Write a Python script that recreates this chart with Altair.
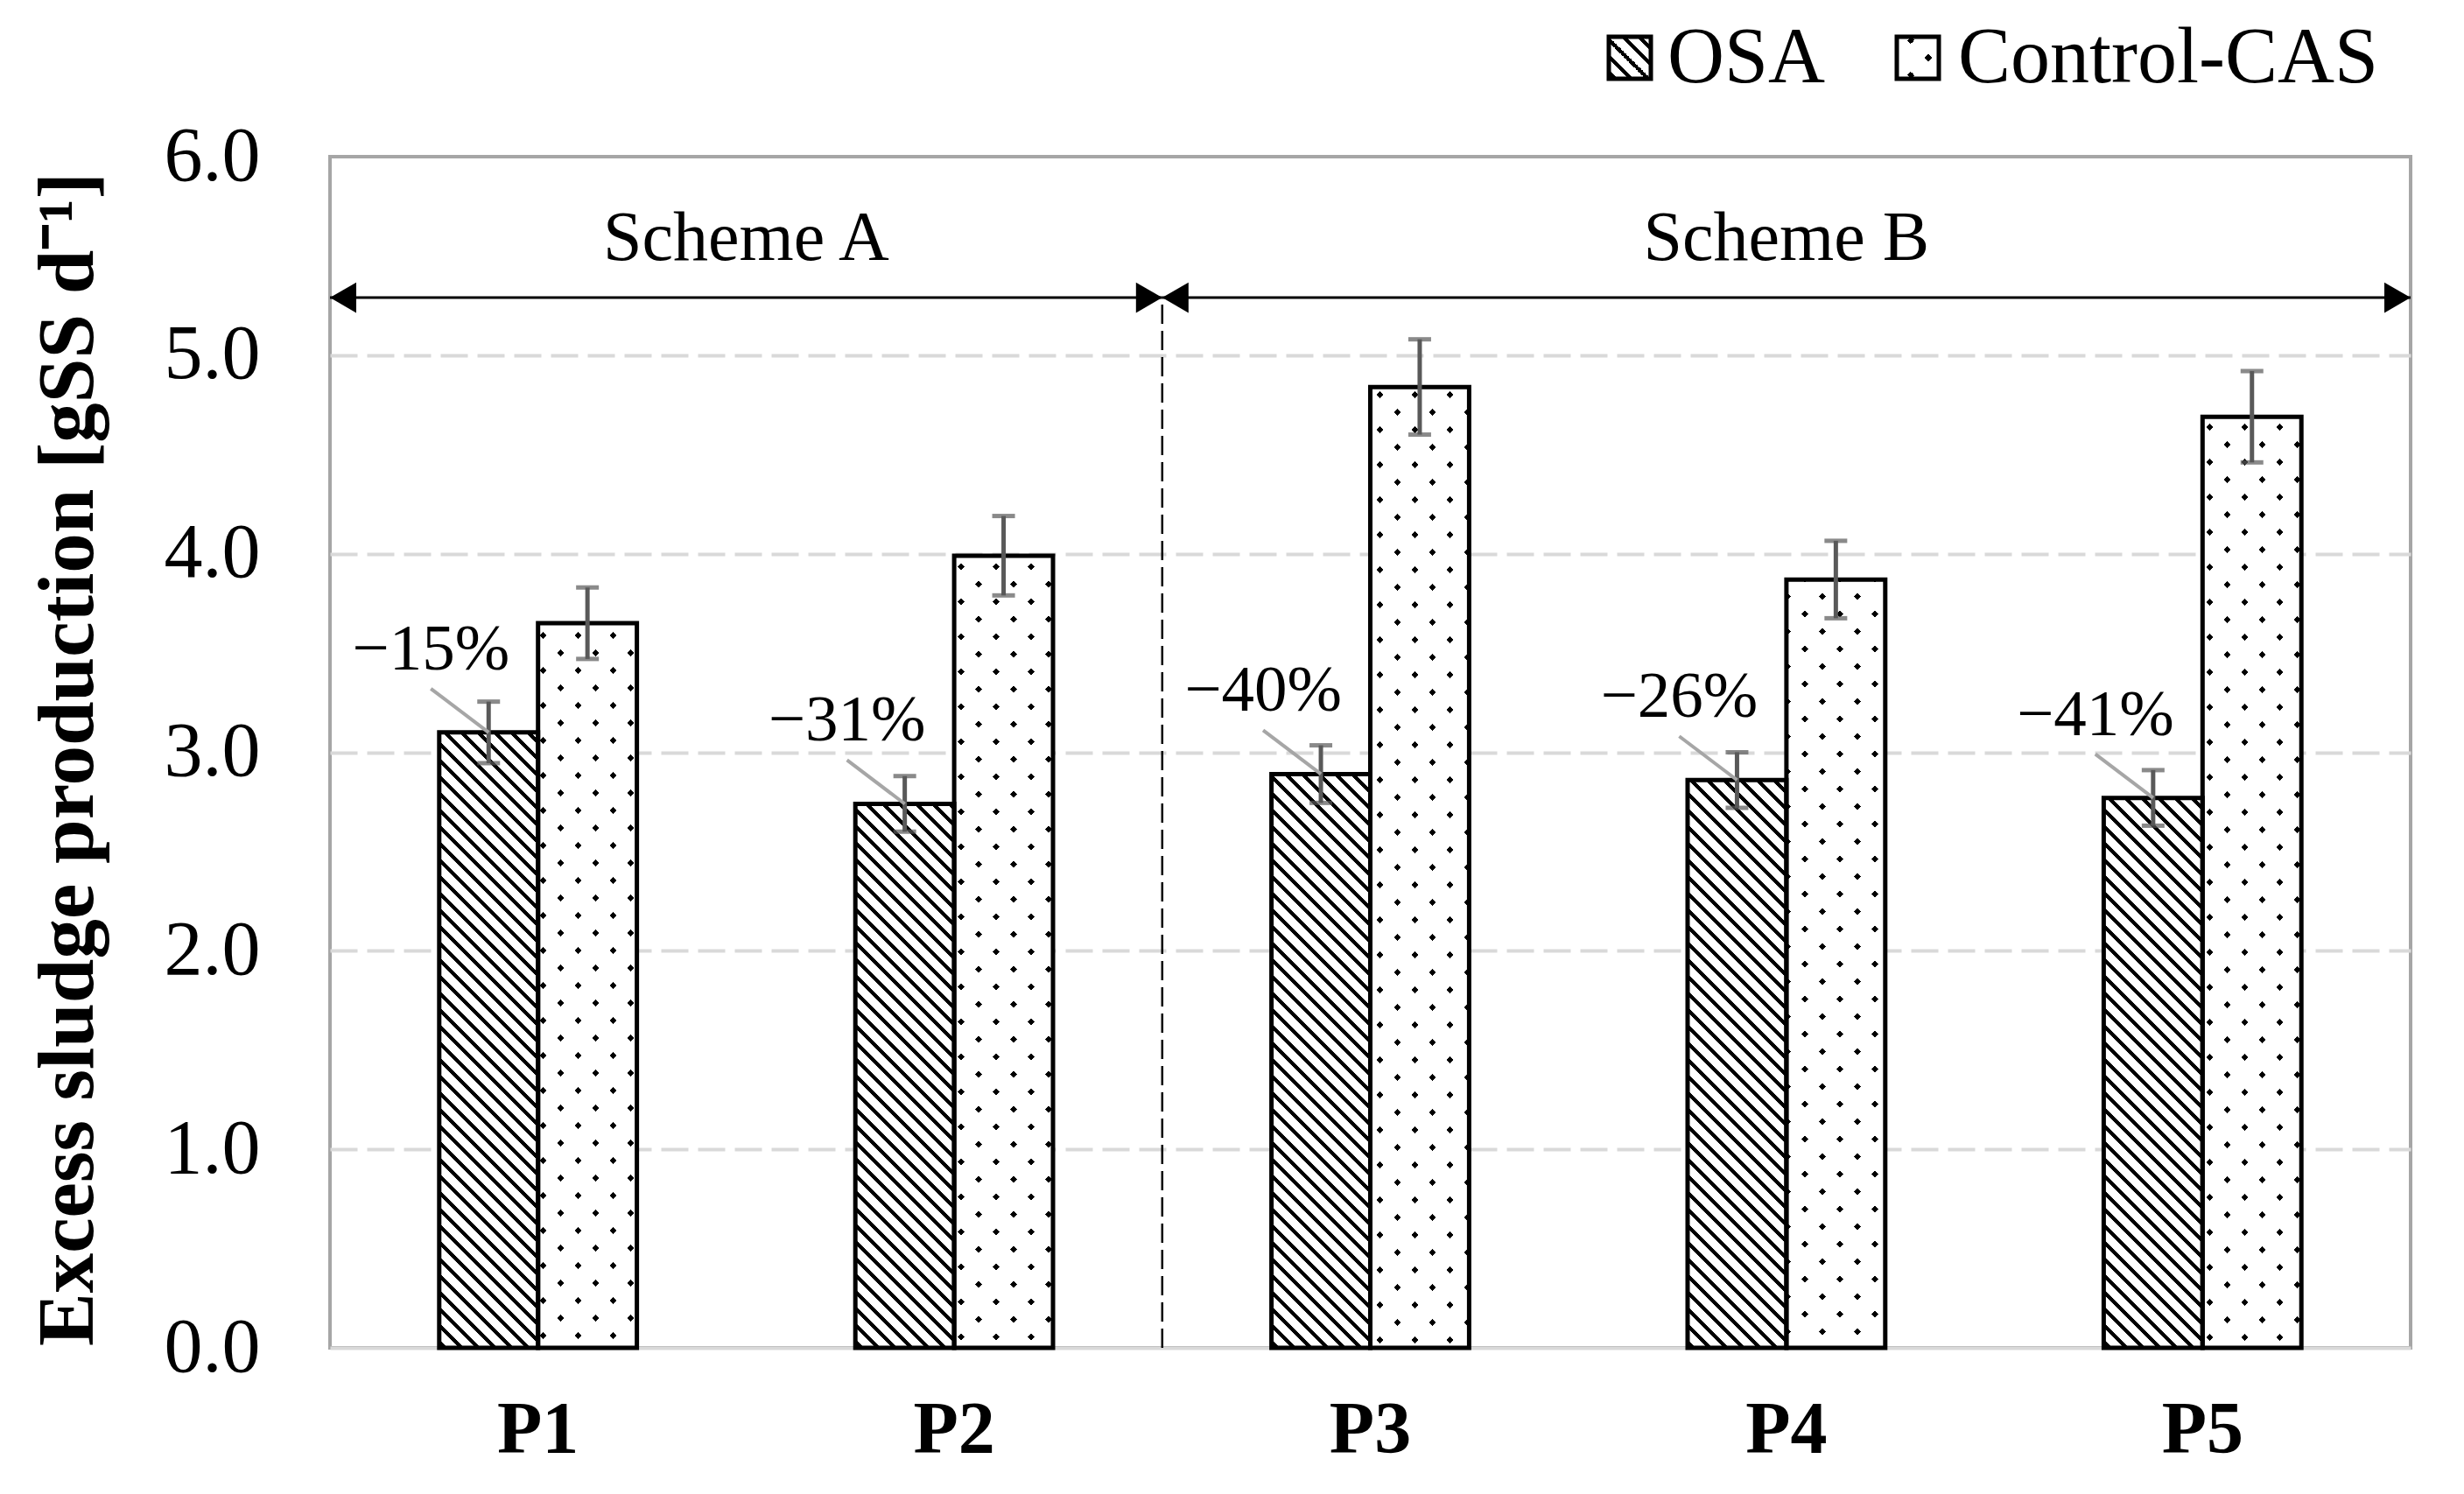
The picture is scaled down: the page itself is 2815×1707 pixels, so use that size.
import altair as alt
import pandas as pd

# ---------------- data ----------------
cats = ["P1", "P2", "P3", "P4", "P5"]
series_names = ["OSA", "Control-CAS"]
osa_vals = [3.10, 2.74, 2.89, 2.86, 2.77]
osa_err = [0.155, 0.14, 0.145, 0.14, 0.14]
cas_vals = [3.65, 3.99, 4.84, 3.87, 4.69]
cas_err = [0.18, 0.20, 0.24, 0.195, 0.23]
reductions = ["\u221215%", "\u221231%", "\u221240%", "\u221226%", "\u221241%"]
schemes = ["Scheme A", "Scheme B"]
scheme_start = [0, 2]   # in category units (band boundaries)
scheme_end = [2, 5]
ARROW_LEVEL = 5.29
LABEL_LEVEL = 5.48
y_ticks = [0, 1, 2, 3, 4, 5, 6]
y_title = "Excess sludge production [gSS d\u207b\u00b9]"

# ---------------- layout ----------------
W, H = 2377, 1361
PAD_INNER, PAD_OUTER = 0.525, 0.2625
STEP = W / len(cats)
BAR_W = STEP * (1 - PAD_INNER) / 2
PX_PER_UNIT = H / 6.0
FONT = "Liberation Serif"

TRANSP = "rgba(255,255,255,0)"


def stripe_stops(L, period, thick, on, off, phase):
    stops = [alt.GradientStop(color=off, offset=0)]
    s = phase
    while s < L:
        a = round(max(s, 0) / L, 5)
        b = round(min(s + thick, L) / L, 5)
        stops += [alt.GradientStop(color=off, offset=a), alt.GradientStop(color=on, offset=a),
                  alt.GradientStop(color=on, offset=b), alt.GradientStop(color=off, offset=b)]
        s += period
    stops.append(alt.GradientStop(color=off, offset=1))
    return stops


def grad_back(w, h, period, thick, on, off, phase=4):
    # stripes running top-left -> bottom-right ("\")
    L = w + h
    c = L / (w * w + h * h)
    return alt.LinearGradient(gradient="linear", x1=0, y1=1, x2=round(c * w, 6), y2=round(1 - c * h, 6),
                              stops=stripe_stops(L, period, thick, on, off, phase))


def grad_fwd(w, h, period, thick, on, off, phase=4):
    # stripes running bottom-left -> top-right ("/")
    L = w + h
    c = L / (w * w + h * h)
    return alt.LinearGradient(gradient="linear", x1=0, y1=0, x2=round(c * w, 6), y2=round(c * h, 6),
                              stops=stripe_stops(L, period, thick, on, off, phase))


def hatch(w, h):
    return grad_back(w, h, 19, 6, "black", "white")


def dots_a(w, h):
    return grad_fwd(w, h, 40, 8, "black", "white", phase=16)


def dots_b(w, h):
    return grad_back(w, h, 40, 8, TRANSP, "white", phase=16)


df = pd.DataFrame({
    "cat": cats * 2,
    "series": [series_names[0]] * len(cats) + [series_names[1]] * len(cats),
    "value": osa_vals + cas_vals,
    "err": osa_err + cas_err,
})
ann_df = pd.DataFrame({"cat": cats, "series": [series_names[0]] * len(cats),
                       "value": osa_vals, "label": reductions})
scheme_df = pd.DataFrame({"scheme": schemes, "start": scheme_start, "end": scheme_end})

# ---------------- encodings ----------------
xaxis = alt.Axis(title=None, labelAngle=0, labelFont=FONT, labelFontWeight="bold", labelFontSize=84,
                 labelColor="black", labelPadding=53, ticks=False, tickSize=0, grid=False,
                 domainColor="#D9D9D9", domainWidth=4)
yaxis = alt.Axis(values=y_ticks, format=".1f", title=y_title, grid=True, gridColor="#D9D9D9",
                 gridDash=[31, 11], gridWidth=4,
                 gridOpacity={"condition": {"test": "datum.value == 0 || datum.value == 6", "value": 0},
                              "value": 1},
                 domain=False, ticks=False, tickSize=0, labelPadding=80, labelFont=FONT,
                 labelFontSize=88, labelColor="black", titleFont=FONT, titleFontSize=91,
                 titleFontWeight="bold", titleColor="black", titleAngle=270, titleX=-272,
                 titleY=688, titleAlign="center", titleBaseline="alphabetic")

X = alt.X("cat:N", scale=alt.Scale(domain=cats, paddingInner=PAD_INNER, paddingOuter=PAD_OUTER),
          axis=xaxis)
XO = alt.XOffset("series:N", scale=alt.Scale(domain=series_names, paddingInner=0, paddingOuter=0))


def ychan(field):
    return alt.Y(f"{field}:Q", scale=alt.Scale(domain=[0, 6], nice=False, zero=True), axis=yaxis)


def XQ(field):
    return alt.X(f"{field}:Q", scale=alt.Scale(domain=[0, len(cats)], nice=False, zero=False), axis=None)


base = alt.Chart(df)
layers = []
for cat, v in zip(cats, osa_vals):
    h = v * PX_PER_UNIT
    layers.append(
        base.transform_filter(alt.FieldEqualPredicate(field="cat", equal=cat))
        .transform_filter(alt.FieldEqualPredicate(field="series", equal=series_names[0]))
        .mark_bar(fill=hatch(BAR_W, h), strokeWidth=0)
        .encode(x=X, xOffset=XO, y=ychan("value"))
    )
for cat, v in zip(cats, cas_vals):
    h = v * PX_PER_UNIT
    for g in (dots_a(BAR_W, h), dots_b(BAR_W, h)):
        layers.append(
            base.transform_filter(alt.FieldEqualPredicate(field="cat", equal=cat))
            .transform_filter(alt.FieldEqualPredicate(field="series", equal=series_names[1]))
            .mark_bar(fill=g, strokeWidth=0)
            .encode(x=X, xOffset=XO, y=ychan("value"))
        )

outline = base.mark_bar(fill="white", fillOpacity=0, stroke="black", strokeWidth=5).encode(
    x=X, xOffset=XO, y=ychan("value"))

ERR_COLOR = "#595959"
err_base = base.transform_calculate(lo="datum.value - datum.err", hi="datum.value + datum.err")
err_rule = err_base.mark_rule(color=ERR_COLOR, strokeWidth=5).encode(
    x=X, xOffset=XO, y=ychan("lo"), y2="hi:Q")
cap_lo = err_base.mark_tick(color=ERR_COLOR, thickness=5, size=26, orient="horizontal").encode(
    x=X, xOffset=XO, y=ychan("lo"))
cap_hi = err_base.mark_tick(color=ERR_COLOR, thickness=5, size=26, orient="horizontal").encode(
    x=X, xOffset=XO, y=ychan("hi"))

LEAD_R = 66
leaders = alt.Chart(ann_df).mark_point(
    shape="M0,0L-1,-0.758", size=(2 * LEAD_R) ** 2, filled=False, stroke="#A6A6A6",
    strokeWidth=4, opacity=1).encode(x=X, xOffset=XO, y=ychan("value"))
ann_text = alt.Chart(ann_df).mark_text(
    font=FONT, fontSize=75, color="black", dx=-66, dy=-72, align="center",
    baseline="alphabetic").encode(x=X, xOffset=XO, y=ychan("value"), text="label:N")

# ---------------- legend (manual, patterned swatches) ----------------
LB = 48
leg_osa = alt.Chart(pd.DataFrame({"series": [series_names[0]]}))
leg_cas = alt.Chart(pd.DataFrame({"series": [series_names[1]]}))


def swatch(chart, x0, fills):
    out = []
    for f in fills:
        out.append(chart.mark_rect(fill=f, strokeWidth=0).encode(
            x=alt.value(x0), x2=alt.value(x0 + LB), y=alt.value(-137), y2=alt.value(-137 + LB)))
    out.append(chart.mark_rect(fill="white", fillOpacity=0, stroke="black", strokeWidth=5).encode(
        x=alt.value(x0), x2=alt.value(x0 + LB), y=alt.value(-137), y2=alt.value(-137 + LB)))
    return out


legend_layers = []
legend_layers += swatch(leg_osa, 1461, [hatch(LB, LB)])
legend_layers.append(leg_osa.mark_text(font=FONT, fontSize=90, color="black", align="left",
                                       baseline="alphabetic").encode(
    x=alt.value(1528), y=alt.value(-85), text="series:N"))
legend_layers += swatch(leg_cas, 1790, [dots_a(LB, LB), dots_b(LB, LB)])
legend_layers.append(leg_cas.mark_text(font=FONT, fontSize=90, color="black", align="left",
                                       baseline="alphabetic").encode(
    x=alt.value(1860), y=alt.value(-85), text="series:N"))

band_layer = alt.layer(*layers, outline, err_rule, cap_lo, cap_hi, leaders, ann_text, *legend_layers)

# ---------------- scheme arrows ----------------
sch = alt.Chart(scheme_df).transform_calculate(
    ay=str(ARROW_LEVEL), ly=str(LABEL_LEVEL), y0="0", mid="(datum.start + datum.end) / 2")
arrow_line = sch.mark_rule(color="black", strokeWidth=3).encode(
    x=XQ("start"), x2="end:Q", y=ychan("ay"))
head_left = sch.mark_point(shape="M0,0L1,-0.58L1,0.58Z", size=3600, filled=True, fill="black",
                           strokeWidth=0, opacity=1).encode(x=XQ("start"), y=ychan("ay"))
head_right = sch.mark_point(shape="M0,0L-1,-0.58L-1,0.58Z", size=3600, filled=True, fill="black",
                            strokeWidth=0, opacity=1).encode(x=XQ("end"), y=ychan("ay"))
divider = sch.transform_filter(alt.FieldEqualPredicate(field="scheme", equal=schemes[0])).mark_rule(
    color="black", strokeWidth=2.5, strokeDash=[22, 8]).encode(x=XQ("end"), y=ychan("y0"), y2="ay:Q")
scheme_text = sch.mark_text(font=FONT, fontSize=80, color="black", align="center",
                            baseline="alphabetic").encode(x=XQ("mid"), y=ychan("ly"), text="scheme:N")
scheme_layer = alt.layer(divider, arrow_line, head_left, head_right, scheme_text)

chart = alt.layer(band_layer, scheme_layer).resolve_scale(x="independent").properties(
    width=W, height=H,
    autosize=alt.AutoSizeParams(type="none"),
    padding={"left": 369, "top": 171, "right": 53, "bottom": 159},
    background="white",
).configure_view(stroke="#A6A6A6", strokeWidth=4)

chart.save("out.html", embed_options={"renderer": "svg", "actions": False})
